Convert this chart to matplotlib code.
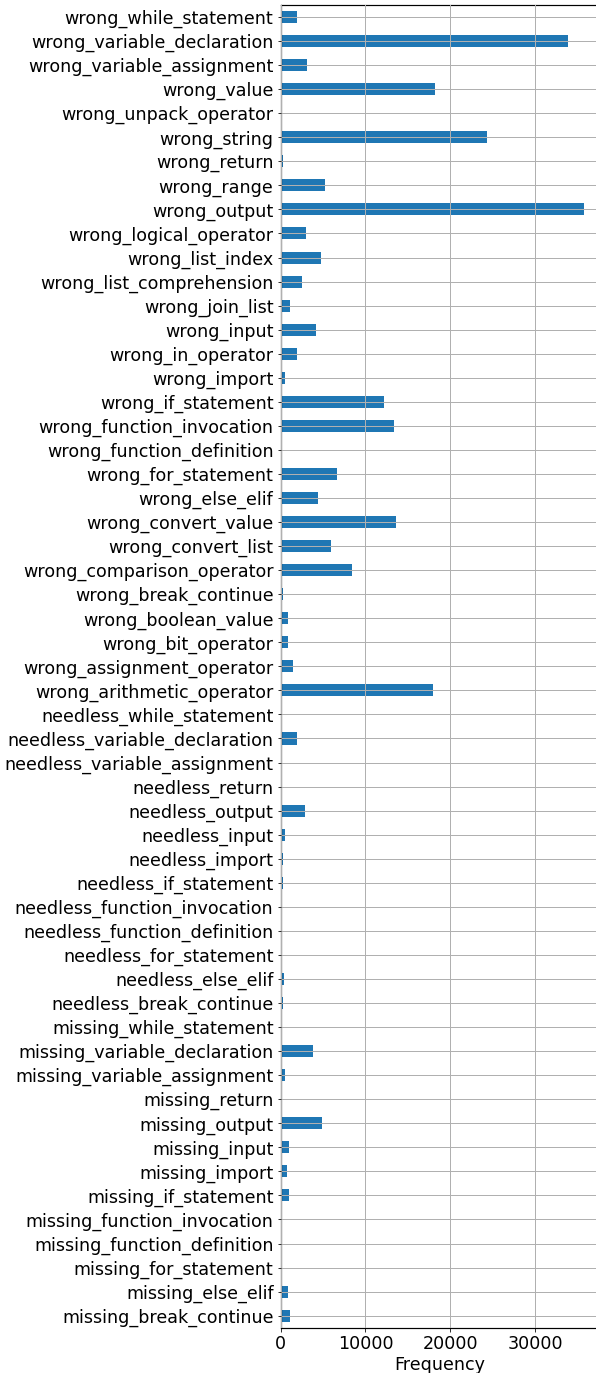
import matplotlib
matplotlib.use("Agg")
import matplotlib.pyplot as plt
import numpy as np

# Error categories, listed bottom to top
categories = [
    "missing_break_continue", "missing_else_elif", "missing_for_statement",
    "missing_function_definition", "missing_function_invocation",
    "missing_if_statement", "missing_import", "missing_input", "missing_output",
    "missing_return", "missing_variable_assignment", "missing_variable_declaration",
    "missing_while_statement",
    "needless_break_continue", "needless_else_elif", "needless_for_statement",
    "needless_function_definition", "needless_function_invocation",
    "needless_if_statement", "needless_import", "needless_input", "needless_output",
    "needless_return", "needless_variable_assignment", "needless_variable_declaration",
    "needless_while_statement",
    "wrong_arithmetic_operator", "wrong_assignment_operator", "wrong_bit_operator",
    "wrong_boolean_value", "wrong_break_continue", "wrong_comparison_operator",
    "wrong_convert_list", "wrong_convert_value", "wrong_else_elif",
    "wrong_for_statement", "wrong_function_definition", "wrong_function_invocation",
    "wrong_if_statement", "wrong_import", "wrong_in_operator", "wrong_input",
    "wrong_join_list", "wrong_list_comprehension", "wrong_list_index",
    "wrong_logical_operator", "wrong_output", "wrong_range", "wrong_return",
    "wrong_string", "wrong_unpack_operator", "wrong_value",
    "wrong_variable_assignment", "wrong_variable_declaration", "wrong_while_statement",
]

frequency = [
    1120, 880, 180,
    10, 10,
    1000, 760, 1000, 4880,
    10, 530, 3820,
    10,
    300, 410, 40,
    10, 10,
    300, 300, 530, 2880,
    10, 180, 1940,
    20,
    17940, 1470, 880,
    880, 300, 8410,
    5940, 13590, 4410,
    6650, 30, 13350,
    12180, 530, 1940, 4180,
    1120, 2530, 4780,
    3000, 35700, 5240, 300,
    24300, 20, 18180,
    3080, 33800, 1940,
]

DPI = 72
W, H = 596, 1373
FS = 17.5
fig = plt.figure(figsize=(W / DPI, H / DPI), dpi=DPI)
left, right = 280.5, 599.0
top, bottom = 5.0, 1327.7
ax = fig.add_axes([left / W, (H - bottom) / H, (right - left) / W, (bottom - top) / H])

pos = np.arange(len(categories))
ax.barh(pos, frequency, height=0.5, color="#1f77b4", align="center")
ax.set_ylim(-0.5, len(categories) - 0.5)
ax.set_xlim(0, max(frequency) * 1.05)
ax.set_yticks(pos)
ax.set_yticklabels(categories, fontsize=FS)
ax.set_xticks([0, 10000, 20000, 30000])
ax.tick_params(axis="x", labelsize=FS)
ax.set_xlabel("Frequency", fontsize=FS, labelpad=3)
ax.grid(True, color="#b0b0b0", linewidth=1.0)
ax.set_axisbelow(False)
for side in ax.spines.values():
    side.set_linewidth(1.2)

fig.savefig("out.png", dpi=DPI)
